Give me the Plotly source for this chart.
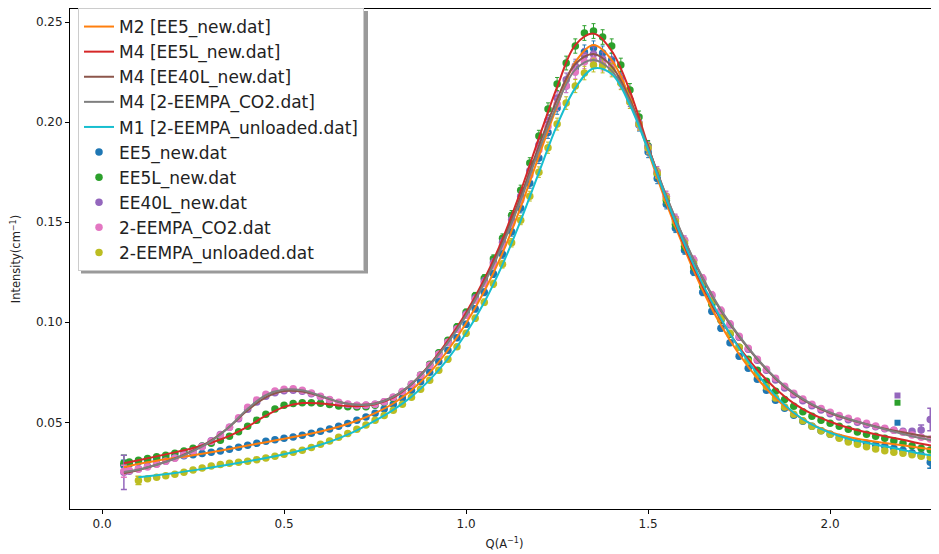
import plotly.graph_objects as go

# Q grid of the measured curves (A^-1)
q_data = [0.06, 0.075, 0.1, 0.125, 0.15, 0.175, 0.2, 0.225, 0.25, 0.275,
          0.3, 0.325, 0.35, 0.375, 0.4, 0.425, 0.45, 0.475, 0.5, 0.525,
          0.55, 0.575, 0.6, 0.625, 0.65, 0.675, 0.7, 0.725, 0.75, 0.775,
          0.8, 0.825, 0.85, 0.875, 0.9, 0.925, 0.95, 0.975, 1.0, 1.025,
          1.05, 1.075, 1.1, 1.125, 1.15, 1.175, 1.2, 1.225, 1.25, 1.275,
          1.3, 1.325, 1.35, 1.375, 1.4, 1.425, 1.45, 1.475, 1.5, 1.525,
          1.55, 1.575, 1.6, 1.625, 1.65, 1.675, 1.7, 1.725, 1.75, 1.775,
          1.8, 1.825, 1.85, 1.875, 1.9, 1.925, 1.95, 1.975, 2.0, 2.025,
          2.05, 2.075, 2.1, 2.125, 2.15, 2.175, 2.2, 2.225, 2.25, 2.275,
          2.3]

ee5_data = [0.0285, 0.0292, 0.0303, 0.0310, 0.0317, 0.0322, 0.0328, 0.0333, 0.0338, 0.0344,
            0.0350, 0.0357, 0.0365, 0.0375, 0.0385, 0.0395, 0.0405, 0.0413, 0.0420, 0.0427,
            0.0435, 0.0445, 0.0455, 0.0467, 0.0480, 0.0494, 0.0510, 0.0527, 0.0545, 0.0566,
            0.0590, 0.0622, 0.0660, 0.0703, 0.0750, 0.0803, 0.0860, 0.0922, 0.0990, 0.1067,
            0.1150, 0.1242, 0.1340, 0.1452, 0.1570, 0.1695, 0.1820, 0.1948, 0.2070, 0.2180,
            0.2270, 0.2350, 0.2370, 0.2345, 0.2310, 0.2220, 0.2110, 0.1985, 0.1850, 0.1718,
            0.1590, 0.1470, 0.1360, 0.1252, 0.1150, 0.1055, 0.0970, 0.0897, 0.0830, 0.0770,
            0.0715, 0.0660, 0.0610, 0.0570, 0.0535, 0.0505, 0.0480, 0.0458, 0.0440, 0.0424,
            0.0410, 0.0402, 0.0395, 0.0388, 0.0380, 0.0371, 0.0360, 0.0348, 0.0335, 0.0300,
            None]

ee5l_data = [0.0296, 0.0302, 0.0310, 0.0319, 0.0328, 0.0336, 0.0345, 0.0357, 0.0370, 0.0382,
             0.0395, 0.0411, 0.0430, 0.0453, 0.0480, 0.0510, 0.0540, 0.0566, 0.0585, 0.0594,
             0.0598, 0.0598, 0.0595, 0.0589, 0.0582, 0.0578, 0.0576, 0.0578, 0.0585, 0.0599,
             0.0620, 0.0652, 0.0690, 0.0737, 0.0790, 0.0848, 0.0910, 0.0978, 0.1050, 0.1132,
             0.1220, 0.1317, 0.1420, 0.1535, 0.1660, 0.1795, 0.1930, 0.2065, 0.2190, 0.2295,
             0.2380, 0.2445, 0.2455, 0.2425, 0.2380, 0.2285, 0.2160, 0.2025, 0.1880, 0.1742,
             0.1610, 0.1490, 0.1380, 0.1277, 0.1180, 0.1090, 0.1010, 0.0940, 0.0875, 0.0815,
             0.0760, 0.0705, 0.0655, 0.0614, 0.0580, 0.0553, 0.0530, 0.0511, 0.0495, 0.0480,
             0.0465, 0.0452, 0.0440, 0.0430, 0.0420, 0.0408, 0.0395, 0.0383, 0.0370, 0.0362,
             None]

ee40l_data = [0.0250, 0.0256, 0.0268, 0.0280, 0.0292, 0.0306, 0.0322, 0.0339, 0.0358, 0.0381,
              0.0408, 0.0439, 0.0475, 0.0518, 0.0565, 0.0602, 0.0630, 0.0648, 0.0658, 0.0660,
              0.0655, 0.0643, 0.0628, 0.0612, 0.0598, 0.0589, 0.0584, 0.0585, 0.0590, 0.0603,
              0.0625, 0.0654, 0.0690, 0.0735, 0.0785, 0.0840, 0.0900, 0.0967, 0.1040, 0.1120,
              0.1205, 0.1298, 0.1400, 0.1512, 0.1630, 0.1757, 0.1885, 0.2008, 0.2120, 0.2212,
              0.2280, 0.2333, 0.2340, 0.2315, 0.2290, 0.2210, 0.2110, 0.1995, 0.1875, 0.1752,
              0.1630, 0.1517, 0.1410, 0.1310, 0.1215, 0.1132, 0.1055, 0.0987, 0.0925, 0.0865,
              0.0810, 0.0760, 0.0712, 0.0672, 0.0638, 0.0608, 0.0583, 0.0562, 0.0543, 0.0527,
              0.0513, 0.0500, 0.0488, 0.0478, 0.0468, 0.0460, 0.0455, 0.0455, 0.0462, 0.0514,
              None]

co2_data = [0.0255, 0.0259, 0.0265, 0.0277, 0.0290, 0.0305, 0.0320, 0.0337, 0.0355, 0.0378,
            0.0405, 0.0437, 0.0475, 0.0523, 0.0575, 0.0612, 0.0640, 0.0657, 0.0665, 0.0668,
            0.0660, 0.0646, 0.0630, 0.0614, 0.0600, 0.0591, 0.0585, 0.0586, 0.0590, 0.0603,
            0.0625, 0.0654, 0.0690, 0.0735, 0.0785, 0.0840, 0.0900, 0.0965, 0.1035, 0.1112,
            0.1195, 0.1287, 0.1385, 0.1495, 0.1610, 0.1735, 0.1860, 0.1978, 0.2090, 0.2180,
            0.2250, 0.2302, 0.2310, 0.2290, 0.2270, 0.2198, 0.2100, 0.1988, 0.1870, 0.1750,
            0.1630, 0.1517, 0.1410, 0.1312, 0.1220, 0.1137, 0.1060, 0.0992, 0.0930, 0.0870,
            0.0815, 0.0765, 0.0720, 0.0680, 0.0645, 0.0616, 0.0590, 0.0569, 0.0550, 0.0534,
            0.0520, 0.0507, 0.0495, 0.0482, 0.0470, 0.0460, 0.0450, 0.0437, 0.0425, 0.0417,
            0.0410]

unloaded_data = [None, None, 0.0210, 0.0218, 0.0226, 0.0233, 0.0240, 0.0251, 0.0262, 0.0272,
                 0.0282, 0.0289, 0.0295, 0.0300, 0.0305, 0.0313, 0.0322, 0.0331, 0.0340, 0.0350,
                 0.0360, 0.0374, 0.0390, 0.0407, 0.0425, 0.0444, 0.0465, 0.0487, 0.0510, 0.0534,
                 0.0560, 0.0590, 0.0625, 0.0665, 0.0710, 0.0760, 0.0815, 0.0877, 0.0945, 0.1020,
                 0.1100, 0.1192, 0.1290, 0.1397, 0.1510, 0.1630, 0.1750, 0.1872, 0.1990, 0.2095,
                 0.2180, 0.2245, 0.2285, 0.2280, 0.2260, 0.2195, 0.2100, 0.1990, 0.1870, 0.1745,
                 0.1620, 0.1505, 0.1395, 0.1293, 0.1195, 0.1105, 0.1020, 0.0945, 0.0875, 0.0805,
                 0.0740, 0.0678, 0.0622, 0.0577, 0.0540, 0.0508, 0.0480, 0.0458, 0.0440, 0.0420,
                 0.0402, 0.0390, 0.0378, 0.0367, 0.0358, 0.0350, 0.0345, 0.0338, 0.0330, 0.0325,
                 0.0320]

# visible (large) error bars: index into q_data, half-height
ee5_err_idx, ee5_err = [0, 88, 89], [0.0025, 0.0015, 0.0030]
ee5l_err_idx, ee5l_err = [0], [0.0040]
ee40l_err_idx, ee40l_err = [0, 88, 89], [0.0085, 0.0025, 0.0056]
co2_err_idx, co2_err = [0], [0.0030]
unloaded_err_idx, unloaded_err = [2], [0.0020]

# stray points near Q = 2.19
stray_q = 2.185
ee5_stray, ee5l_stray, ee40l_stray = 0.0498, 0.0598, 0.0634

# fitted model curves
q_fit = [0.06, 0.1, 0.15, 0.2, 0.25, 0.3, 0.35, 0.4, 0.45, 0.5,
         0.55, 0.6, 0.65, 0.7, 0.75, 0.8, 0.85, 0.9, 0.95, 1.0,
         1.05, 1.1, 1.15, 1.2, 1.25, 1.3, 1.35, 1.4, 1.45, 1.5,
         1.55, 1.6, 1.65, 1.7, 1.75, 1.8, 1.85, 1.9, 1.95, 2.0,
         2.05, 2.1, 2.15, 2.2, 2.25, 2.28]

m2_ee5 = [0.0276, 0.0292, 0.0308, 0.0322, 0.0336, 0.0351, 0.0367, 0.0384, 0.0401, 0.0418,
          0.0435, 0.0454, 0.0478, 0.0508, 0.0546, 0.0594, 0.0660, 0.0748, 0.0860, 0.0995,
          0.1155, 0.1345, 0.1575, 0.1830, 0.2080, 0.2300, 0.2385, 0.2310, 0.2120, 0.1855,
          0.1595, 0.1365, 0.1160, 0.0985, 0.0840, 0.0720, 0.0620, 0.0545, 0.0490, 0.0452,
          0.0427, 0.0410, 0.0397, 0.0385, 0.0372, 0.0365]

m4_ee5l = [0.0296, 0.0311, 0.0330, 0.0350, 0.0372, 0.0398, 0.0432, 0.0478, 0.0533, 0.0577,
           0.0596, 0.0594, 0.0584, 0.0580, 0.0590, 0.0623, 0.0690, 0.0788, 0.0908, 0.1048,
           0.1215, 0.1415, 0.1655, 0.1920, 0.2175, 0.2385, 0.2442, 0.2355, 0.2155, 0.1880,
           0.1612, 0.1380, 0.1180, 0.1012, 0.0875, 0.0762, 0.0668, 0.0595, 0.0542, 0.0503,
           0.0473, 0.0450, 0.0430, 0.0413, 0.0393, 0.0384]

m4_ee40l = [0.0246, 0.0262, 0.0288, 0.0320, 0.0360, 0.0410, 0.0478, 0.0560, 0.0625, 0.0656,
            0.0654, 0.0630, 0.0602, 0.0588, 0.0594, 0.0628, 0.0692, 0.0786, 0.0900, 0.1038,
            0.1202, 0.1398, 0.1628, 0.1880, 0.2115, 0.2290, 0.2340, 0.2278, 0.2112, 0.1875,
            0.1630, 0.1410, 0.1218, 0.1058, 0.0928, 0.0815, 0.0718, 0.0643, 0.0587, 0.0546,
            0.0515, 0.0490, 0.0468, 0.0450, 0.0433, 0.0425]

m4_co2 = [0.0252, 0.0264, 0.0288, 0.0318, 0.0356, 0.0406, 0.0478, 0.0568, 0.0636, 0.0664,
          0.0660, 0.0633, 0.0603, 0.0588, 0.0593, 0.0627, 0.0691, 0.0785, 0.0898, 0.1033,
          0.1195, 0.1385, 0.1610, 0.1858, 0.2088, 0.2262, 0.2310, 0.2256, 0.2100, 0.1870,
          0.1630, 0.1412, 0.1222, 0.1062, 0.0932, 0.0818, 0.0722, 0.0647, 0.0591, 0.0550,
          0.0518, 0.0490, 0.0465, 0.0442, 0.0420, 0.0410]

m1_unloaded = [None, 0.0226, 0.0236, 0.0247, 0.0260, 0.0274, 0.0289, 0.0305, 0.0322, 0.0341,
               0.0362, 0.0388, 0.0420, 0.0460, 0.0508, 0.0562, 0.0628, 0.0712, 0.0817, 0.0945,
               0.1100, 0.1288, 0.1508, 0.1748, 0.1985, 0.2170, 0.2268, 0.2240, 0.2085, 0.1860,
               0.1615, 0.1390, 0.1190, 0.1018, 0.0870, 0.0742, 0.0632, 0.0548, 0.0488, 0.0448,
               0.0418, 0.0398, 0.0380, 0.0362, 0.0343, 0.0335]

for arr in [ee5_data, ee5l_data, ee40l_data, co2_data, unloaded_data]:
    assert len(arr) == len(q_data)
for arr in [m2_ee5, m4_ee5l, m4_ee40l, m4_co2, m1_unloaded]:
    assert len(arr) == len(q_fit)

data_sets = [
    ("EE5_new.dat", ee5_data, ee5_err_idx, ee5_err, "#1f77b4"),
    ("EE5L_new.dat", ee5l_data, ee5l_err_idx, ee5l_err, "#2ca02c"),
    ("EE40L_new.dat", ee40l_data, ee40l_err_idx, ee40l_err, "#9467bd"),
    ("2-EEMPA_CO2.dat", co2_data, co2_err_idx, co2_err, "#e377c2"),
    ("2-EEMPA_unloaded.dat", unloaded_data, unloaded_err_idx, unloaded_err, "#bcbd22"),
]
fits = [
    ("M2 [EE5_new.dat]", m2_ee5, "#ff7f0e"),
    ("M4 [EE5L_new.dat]", m4_ee5l, "#d62728"),
    ("M4 [EE40L_new.dat]", m4_ee40l, "#8c564b"),
    ("M4 [2-EEMPA_CO2.dat]", m4_co2, "#7f7f7f"),
    ("M1 [2-EEMPA_unloaded.dat]", m1_unloaded, "#17becf"),
]

fig = go.Figure()

# data points (drawn first, legend after the fits)
for i, (name, vals, eidx, evals, col) in enumerate(data_sets):
    fig.add_trace(go.Scatter(
        x=q_data, y=vals, mode='markers', name=name, legendrank=10 + i,
        marker=dict(color=col, size=7.5, symbol='circle'),
        error_y=dict(type='percent', value=1.5, color=col, thickness=1, width=2),
    ))
    fig.add_trace(go.Scatter(
        x=[q_data[k] for k in eidx], y=[vals[k] for k in eidx], mode='markers',
        showlegend=False, hoverinfo='skip',
        marker=dict(color=col, size=6),
        error_y=dict(type='data', array=evals, color=col, thickness=1.5, width=3),
    ))

for val, col in [(ee5_stray, "#1f77b4"), (ee5l_stray, "#2ca02c"), (ee40l_stray, "#9467bd")]:
    fig.add_trace(go.Scatter(x=[stray_q], y=[val], mode='markers', showlegend=False,
                             marker=dict(color=col, size=6, symbol='square')))

for i, (name, vals, col) in enumerate(fits):
    fig.add_trace(go.Scatter(
        x=q_fit, y=vals, mode='lines', name=name, legendrank=1 + i,
        line=dict(color=col, width=2, shape='spline'),
    ))

# the page body has an 8px margin, so the figure starts at (8, 8) of the window;
# plot area in window pixels: x 70..939, y 8..509
def px(x):
    return (x - 70) / 869

def py(y):
    return (509 - y) / 501

# legend shadow, as in the matplotlib legend
fig.add_shape(type='rect', xref='paper', yref='paper',
              x0=px(81), x1=px(368), y0=py(273), y1=py(10),
              fillcolor='#9a9a9a', line=dict(width=0), layer='above')

fig.update_layout(
    width=931, height=546,
    margin=dict(l=62, r=0, t=0, b=45),
    plot_bgcolor='white', paper_bgcolor='white',
    font=dict(family='DejaVu Sans', size=12, color='#222222'),
    showlegend=True,
    legend=dict(x=px(78), y=py(7), xanchor='left', yanchor='top',
                bgcolor='white', bordercolor='#cccccc', borderwidth=1,
                font=dict(size=17, color='#222222'), traceorder='normal'),
    xaxis=dict(range=[-0.088, 2.299], dtick=0.5, tick0=0, tickformat='.1f',
               showline=True, linecolor='black', linewidth=1, mirror=True,
               ticks='outside', ticklen=4, tickcolor='black', automargin=False,
               showgrid=False, zeroline=False,
               title=dict(text='Q(A<sup>−1</sup>)', font=dict(size=11.5), standoff=9)),
    yaxis=dict(range=[0.0067, 0.2565], dtick=0.05, tick0=0, tickformat='.2f',
               showline=True, linecolor='black', linewidth=1, automargin=False,
               ticks='outside', ticklen=4, tickcolor='black',
               showgrid=False, zeroline=False,
               title=dict(text='Intensity(cm<sup>−1</sup>)', font=dict(size=11.5), standoff=12)),
)

fig.write_html("out.html")
